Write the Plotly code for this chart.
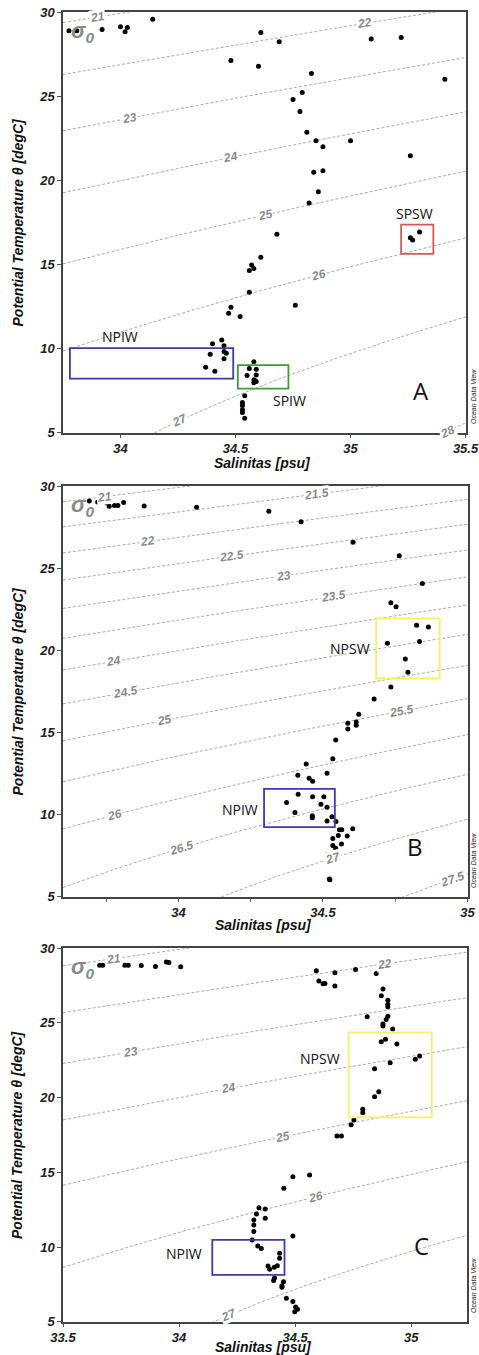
import numpy as np
import plotly.graph_objects as go

# ---------------- data ----------------
A_SAL = [33.776, 33.81, 33.92, 34.0, 34.02, 34.03, 34.14, 34.61, 34.69, 34.48, 34.60, 35.09, 35.22, 35.41,
         34.83, 34.79, 34.75, 34.78, 34.81, 34.85, 34.88, 35.0, 35.26, 34.84, 34.88, 34.86, 34.82,
         34.68, 34.61, 34.57, 34.58, 34.56, 34.56, 34.76, 34.48, 34.47, 34.52,
         35.26, 35.27, 35.30,
         34.40, 34.44, 34.45, 34.45, 34.46, 34.39, 34.45, 34.37, 34.41,
         34.58, 34.56, 34.59, 34.55, 34.59, 34.58, 34.59, 34.585, 34.58,
         34.54, 34.53, 34.53, 34.53, 34.53, 34.54]
A_TEMP = [28.9, 28.9, 28.97, 29.13, 28.83, 29.09, 29.58, 28.79, 28.24, 27.13, 26.79, 28.4, 28.5, 26.02,
          26.36, 25.23, 24.81, 24.1, 22.87, 22.36, 22.0, 22.36, 21.47, 20.48, 20.58, 19.33, 18.66,
          16.8, 15.43, 14.98, 14.76, 14.64, 13.36, 12.58, 12.46, 12.11, 11.91,
          16.6, 16.46, 16.94,
          10.30, 10.52, 10.18, 9.83, 9.73, 9.67, 9.41, 8.9, 8.66,
          9.23, 8.82, 8.78, 8.4, 8.44, 8.15, 8.05, 8.1, 7.98,
          7.2, 6.8, 6.62, 6.37, 6.21, 5.87]

B_SAL = [33.691, 33.72, 33.751, 33.76, 33.778, 33.79, 33.81, 33.881, 34.0625, 34.3125, 34.424, 34.604,
         34.764, 34.844, 34.735, 34.753, 34.824, 34.865, 34.723, 34.834, 34.785, 34.794, 34.735, 34.677,
         34.624, 34.586, 34.586, 34.615, 34.615, 34.544, 34.534, 34.442, 34.413, 34.514, 34.452, 34.464,
         34.414, 34.374, 34.464, 34.503, 34.493, 34.514, 34.403, 34.463, 34.463, 34.531, 34.514,
         34.545, 34.557, 34.565, 34.603, 34.553, 34.584, 34.534, 34.534, 34.544, 34.564, 34.516,
         34.522, 34.524]
B_TEMP = [29.09, 29.03, 28.98, 28.78, 28.83, 28.83, 29.01, 28.80, 28.72, 28.48, 27.83, 26.59,
          25.76, 24.08, 22.90, 22.66, 21.53, 21.42, 20.43, 20.55, 19.48, 18.67, 17.77, 17.04,
          16.11, 15.57, 15.22, 15.65, 15.44, 14.55, 13.41, 13.09, 12.40, 12.52, 12.22, 12.04,
          11.25, 10.74, 11.10, 11.10, 10.64, 10.46, 10.13, 9.93, 9.82, 9.88, 9.62,
          9.58, 9.08, 9.08, 9.14, 8.73, 8.71, 8.55, 8.12, 7.96, 8.22, 7.57,
          6.09, 6.04]

C_SAL = [33.658, 33.671, 33.766, 33.781, 33.837, 33.898, 33.945, 33.956, 34.007,
         34.591, 34.671, 34.760, 34.849, 34.602, 34.62, 34.628, 34.671, 34.878, 34.871, 34.899,
         34.899, 34.899, 34.810, 34.899, 34.892, 34.878, 34.878, 34.92, 34.871, 34.889, 34.938,
         35.036, 35.017, 34.909, 34.842, 34.860, 34.842, 34.791, 34.791, 34.753, 34.741,
         34.680, 34.699, 34.490, 34.562, 34.451, 34.344, 34.371, 34.333, 34.371, 34.322, 34.322,
         34.322, 34.490, 34.315, 34.339, 34.354, 34.433, 34.433, 34.383, 34.39, 34.41, 34.423,
         34.411, 34.407, 34.450, 34.443, 34.443, 34.462, 34.49, 34.502, 34.51, 34.498]
C_TEMP = [28.86, 28.86, 28.86, 28.86, 28.84, 28.78, 29.08, 29.04, 28.75,
          28.48, 28.35, 28.57, 28.31, 27.81, 27.62, 27.64, 27.46, 27.26, 26.81, 26.52,
          26.24, 26.08, 25.41, 25.45, 25.23, 24.92, 24.79, 24.59, 23.74, 23.90, 23.58,
          22.78, 22.56, 22.33, 21.93, 20.39, 20.06, 19.22, 18.99, 18.50, 18.19,
          17.43, 17.43, 14.71, 14.83, 13.94, 12.64, 12.55, 12.22, 11.93, 11.82, 11.48,
          11.04, 10.75, 10.48, 10.08, 9.90, 9.59, 9.26, 8.74, 8.52, 8.65, 8.76,
          7.94, 7.76, 7.69, 7.41, 7.32, 6.58, 6.36, 6.0, 5.84, 5.67]

# isopycnal levels (sigma-0) per panel
A_SIGMA = [21, 22, 23, 24, 25, 26, 27, 28]
B_SIGMA = [21, 21.5, 22, 22.5, 23, 23.5, 24, 24.5, 25, 25.5, 26, 26.5, 27, 27.5]
C_SIGMA = [21, 22, 23, 24, 25, 26, 27]

# water-mass boxes: name, S min, S max, T min, T max
A_BOXES = [("NPIW", 33.78, 34.49, 8.22, 10.03),
           ("SPIW", 34.51, 34.73, 7.63, 9.02),
           ("SPSW", 35.22, 35.36, 15.63, 17.37)]
B_BOXES = [("NPIW", 34.296, 34.541, 9.24, 11.57),
           ("NPSW", 34.684, 34.904, 18.30, 21.95)]
C_BOXES = [("NPIW", 34.143, 34.454, 8.14, 10.48),
           ("NPSW", 34.730, 35.088, 18.68, 24.36)]

PANEL_LETTERS = ["A", "B", "C"]
X_TICKS_A = [34, 34.5, 35, 35.5]
X_TICKS_B = [34, 34.5, 35]
X_TICKS_C = [33.5, 34, 34.5, 35]
Y_TICKS = [5, 10, 15, 20, 25, 30]

# ---------------- styling / layout ----------------
W, H = 479, 1355
BOX_COLORS = {"NPIW": "#3b3bab", "SPIW": "#3f9a3f", "SPSW": "#d35a5a", "NPSW": "#f2f26a"}
FONT = "Liberation Sans, Arial, sans-serif"


def fx(px):
    return px / W


def fy(py):
    return 1 - py / H


panels = [
    dict(sal=A_SAL, tem=A_TEMP, sig=A_SIGMA, boxes=A_BOXES, xr=[33.75, 35.502], ticks=X_TICKS_A, minor=None,
         px=(63, 466), py=(12, 433),
         lab_s={21: 33.9, 22: 35.06, 23: 34.04, 24: 34.48, 25: 34.63, 26: 34.86, 27: 34.26, 28: 35.42},
         box_lab={"NPIW": (120, 337), "SPIW": (289, 400), "SPSW": (414, 214)},
         letter=(421, 391), title_y=463),
    dict(sal=B_SAL, tem=B_TEMP, sig=B_SIGMA, boxes=B_BOXES, xr=[33.6, 35.002], ticks=X_TICKS_B, minor=0.25,
         px=(63, 468), py=(486, 897),
         lab_s={21: 33.743, 21.5: 34.478, 22: 33.894, 22.5: 34.185, 23: 34.362, 23.5: 34.536, 24: 33.775,
                24.5: 33.818, 25: 33.951, 25.5: 34.771, 26: 33.778, 26.5: 34.009, 27: 34.536, 27.5: 34.95},
         box_lab={"NPIW": (240, 809), "NPSW": (350, 649)},
         letter=(415, 846), title_y=925),
    dict(sal=C_SAL, tem=C_TEMP, sig=C_SIGMA, boxes=C_BOXES, xr=[33.5, 35.24], ticks=X_TICKS_C, minor=None,
         px=(63, 467), py=(948, 1322),
         lab_s={21: 33.716, 22: 34.885, 23: 33.792, 24: 34.213, 25: 34.444, 26: 34.588, 27: 34.215},
         box_lab={"NPIW": (184, 1253), "NPSW": (320, 1058)},
         letter=(421, 1245), title_y=1347),
]


def sigma0(S, T):
    rw = (999.842594 + 6.793952e-2 * T - 9.095290e-3 * T ** 2 + 1.001685e-4 * T ** 3
          - 1.120083e-6 * T ** 4 + 6.536332e-9 * T ** 5)
    r = (rw + S * (0.824493 - 4.0899e-3 * T + 7.6438e-5 * T ** 2 - 8.2467e-7 * T ** 3 + 5.3875e-9 * T ** 4)
         + S ** 1.5 * (-5.72466e-3 + 1.0227e-4 * T - 1.6546e-6 * T ** 2) + 4.8314e-4 * S ** 2)
    return r - 1000.0


def iso_T(level, S):
    S = np.asarray(S, dtype=float)
    lo = np.full_like(S, 3.0)
    hi = np.full_like(S, 45.0)
    for _ in range(60):
        mid = 0.5 * (lo + hi)
        above = sigma0(S, mid) > level
        lo = np.where(above, mid, lo)
        hi = np.where(above, hi, mid)
    return 0.5 * (lo + hi)


def ann(**kw):
    d = dict(showarrow=False, xanchor="center", yanchor="middle")
    d.update(kw)
    return d


fig = go.Figure()
annotations = []
shapes = []
layout_axes = {}

for i, p in enumerate(panels):
    n = "" if i == 0 else str(i + 1)
    xa, ya = "x" + n, "y" + n
    x0, x1 = p["px"]
    y0, y1 = p["py"]
    xdom = [fx(x0), fx(x1)]
    ydom = [fy(y1), fy(y0)]
    xr = p["xr"]
    yr = [5, 30]
    sx = (x1 - x0) / (xr[1] - xr[0])
    sy = (y1 - y0) / (yr[1] - yr[0])

    # isopycnals
    S_line = np.linspace(xr[0], xr[1], 200)
    for lev in p["sig"]:
        T_line = iso_T(lev, S_line)
        fig.add_trace(go.Scatter(x=S_line, y=T_line, mode="lines", xaxis=xa, yaxis=ya,
                                 line=dict(color="#a0a0a0", width=0.9, dash="3px,2px"),
                                 hoverinfo="skip", showlegend=False))
        if lev in p["lab_s"]:
            s = p["lab_s"][lev]
            t = float(iso_T(lev, np.array([s]))[0])
            dtds = float((iso_T(lev, np.array([s + 0.01])) - iso_T(lev, np.array([s - 0.01])))[0] / 0.02)
            ang = -np.degrees(np.arctan(dtds * sy / sx))
            annotations.append(ann(x=s, y=t, xref=xa, yref=ya,
                                   text="<b><i>%g</i></b>" % lev, textangle=ang,
                                   font=dict(family=FONT, size=12, color="#8a8a8a"),
                                   bgcolor="white", borderpad=0))

    # boxes
    for name, s_lo, s_hi, t_lo, t_hi in p["boxes"]:
        shapes.append(dict(type="rect", xref=xa, yref=ya, x0=s_lo, x1=s_hi, y0=t_lo, y1=t_hi,
                           line=dict(color=BOX_COLORS[name], width=1.8), fillcolor="rgba(0,0,0,0)",
                           layer="above"))
        lx, ly = p["box_lab"][name]
        annotations.append(ann(x=fx(lx), y=fy(ly), xref="paper", yref="paper",
                               text=name, font=dict(family="Open Sans, sans-serif", size=14, color="#111")))

    # points
    fig.add_trace(go.Scatter(x=p["sal"], y=p["tem"], mode="markers", xaxis=xa, yaxis=ya,
                             marker=dict(color="black", size=5), showlegend=False))

    tickfont = dict(family=FONT, size=13, color="#222", weight="bold", style="italic")
    xax = dict(domain=xdom, range=xr, anchor=ya, tickvals=p["ticks"], ticktext=["%g" % v for v in p["ticks"]],
               ticks="outside", ticklen=3, tickcolor="#555", tickfont=tickfont, showgrid=False, zeroline=False,
               showline=True, linecolor="#444", linewidth=1.5, mirror=True, automargin=False)
    if p["minor"]:
        xax["minor"] = dict(dtick=p["minor"], ticks="outside", ticklen=3, tickcolor="#777", tick0=34)
    yax = dict(domain=ydom, range=[4.99, 30.01], anchor=xa, tickvals=Y_TICKS, ticks="outside", ticklen=4,
               tickcolor="#555", tickfont=tickfont, showgrid=False, zeroline=False,
               showline=True, linecolor="#444", linewidth=1.5, mirror=True, automargin=False)
    layout_axes["xaxis" + n] = xax
    layout_axes["yaxis" + n] = yax

    # titles
    annotations.append(ann(x=fx(17), y=fy((y0 + y1) / 2), xref="paper", yref="paper",
                           text="<b><i>Potential Temperature θ [degC]</i></b>", textangle=-90,
                           font=dict(family=FONT, size=14, color="#111")))
    annotations.append(ann(x=fx((x0 + x1) / 2 - 2), y=fy(p["title_y"]), xref="paper", yref="paper",
                           text="<b><i>Salinitas [psu]</i></b>",
                           font=dict(family=FONT, size=14, color="#111")))
    # sigma-0 symbol
    annotations.append(ann(x=fx(x0 + 20), y=fy(y0 + 20), xref="paper", yref="paper",
                           text="<b><i>σ<sub>0</sub></i></b>",
                           font=dict(family=FONT, size=22, color="#8a8a8a")))
    # panel letter
    lx, ly = p["letter"]
    annotations.append(ann(x=fx(lx), y=fy(ly), xref="paper", yref="paper",
                           text=PANEL_LETTERS[i], font=dict(family="Open Sans, sans-serif", size=24, color="#111")))
    # watermark
    annotations.append(ann(x=fx(473), y=fy(y1 - 36), xref="paper", yref="paper",
                           text="<i>Ocean Data View</i>", textangle=-90,
                           font=dict(family=FONT, size=7, color="#222")))

fig.update_layout(width=W, height=H, autosize=False, margin=dict(l=0, r=0, t=0, b=0, pad=0),
                  template="none",
                  paper_bgcolor="white", plot_bgcolor="white", showlegend=False,
                  annotations=annotations, shapes=shapes, **layout_axes)

fig.write_html("out.html", config={"displayModeBar": False},
               post_script="document.body.style.margin='0px';")
